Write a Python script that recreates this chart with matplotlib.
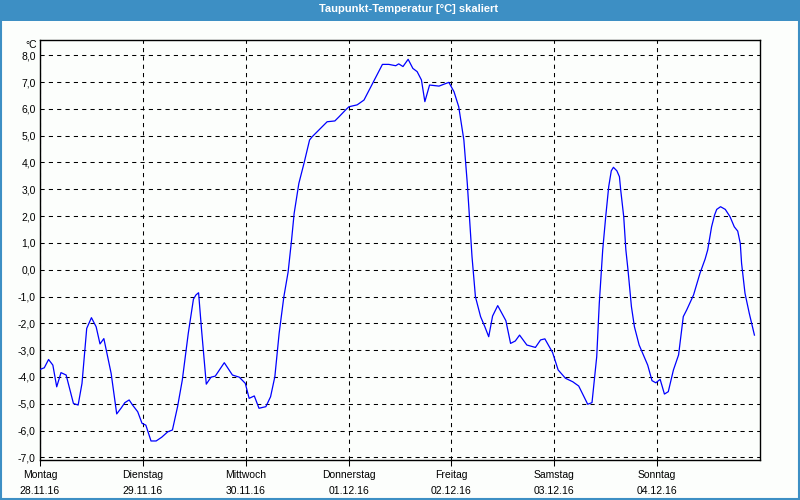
import matplotlib
matplotlib.use("Agg")
import matplotlib.pyplot as plt
from matplotlib.patches import Rectangle

# hours since Monday 28.11.16 00:00
hours = [0.0, 1.0, 2.0, 3.0, 3.9, 4.9, 6.1, 7.8, 8.9, 9.8, 10.9, 12.0, 13.1, 14.0, 14.9,
         16.6, 17.9, 18.9, 19.8, 20.8, 21.6, 22.8, 23.8, 24.7, 25.9, 27.1, 28.4, 29.8,
         30.9, 32.1, 33.2, 34.6, 35.8, 36.4, 37.0, 37.7, 38.8, 39.9, 40.9, 43.0, 44.9,
         46.5, 47.9, 48.8, 50.0, 51.1, 52.7, 53.8, 54.8, 55.8, 56.9, 57.9, 58.7, 59.3,
         60.4, 61.6, 62.9, 63.5, 65.5, 67.0, 68.8, 69.8, 71.3, 72.1, 74.0, 75.6, 77.8,
         79.9, 81.4, 83.0, 83.7, 84.7, 85.9, 87.0, 88.0, 89.0, 89.8, 90.9, 93.1, 95.4,
         96.6, 97.7, 98.9, 99.7, 100.4, 100.8, 101.6, 102.8, 103.8, 104.7, 105.6, 106.8,
         108.7, 109.8, 110.9, 111.9, 113.6, 115.6, 116.8, 117.8, 119.6, 120.9, 122.6,
         124.3, 125.7, 127.8, 128.8, 129.9, 130.5, 131.3, 132.0, 132.7, 133.3, 133.8,
         134.6, 135.2, 135.5, 136.2, 136.7, 137.2, 138.0, 138.7, 139.8, 140.8, 141.8,
         142.8, 143.7, 144.7, 145.7, 146.6, 147.8, 149.0, 150.1, 150.9, 152.5, 154.0,
         155.2, 155.8, 156.7, 157.4, 157.9, 158.8, 159.9, 161.0, 162.0, 162.8, 163.4,
         163.7, 164.5, 165.5, 166.7]
dewpoint = [-3.72, -3.66, -3.35, -3.56, -4.37, -3.84, -3.93, -4.99, -5.05, -4.24, -2.19,
            -1.79, -2.13, -2.77, -2.57, -3.87, -5.38, -5.17, -4.96, -4.86, -5.05, -5.30,
            -5.73, -5.80, -6.39, -6.39, -6.25, -6.05, -5.98, -5.11, -4.12, -2.37, -1.10,
            -0.94, -0.86, -2.25, -4.27, -4.01, -3.97, -3.47, -3.93, -4.01, -4.24, -4.80,
            -4.71, -5.17, -5.11, -4.74, -3.99, -2.37, -1.01, -0.08, 1.11, 2.10, 3.22,
            3.97, 4.84, 4.96, 5.28, 5.52, 5.55, 5.71, 5.96, 6.08, 6.15, 6.33, 7.01, 7.66,
            7.66, 7.61, 7.68, 7.58, 7.85, 7.51, 7.39, 7.08, 6.27, 6.89, 6.85, 6.99, 6.64,
            6.08, 4.84, 3.22, 1.48, 0.49, -1.01, -1.75, -2.13, -2.50, -1.73, -1.34, -1.90,
            -2.75, -2.66, -2.44, -2.81, -2.90, -2.62, -2.58, -3.09, -3.74, -4.05, -4.18,
            -4.34, -5.02, -4.96, -3.25, -1.25, 0.74, 1.98, 3.10, 3.69, 3.82, 3.69, 3.47,
            2.97, 1.98, 0.74, -0.01, -1.38, -2.13, -2.81, -3.18, -3.56, -4.14, -4.22,
            -4.09, -4.64, -4.55, -3.74, -3.18, -1.75, -1.50, -0.94, -0.13, 0.40, 0.74,
            1.60, 2.04, 2.25, 2.35, 2.25, 1.98, 1.60, 1.44, 0.98, 0.24, -0.88, -1.63,
            -2.44]

day_names = ["Montag", "Dienstag", "Mittwoch", "Donnerstag", "Freitag", "Samstag", "Sonntag"]
day_dates = ["28.11.16", "29.11.16", "30.11.16", "01.12.16", "02.12.16", "03.12.16", "04.12.16"]
day_hours = [0, 24, 48, 72, 96, 120, 144]
y_ticks = [8, 7, 6, 5, 4, 3, 2, 1, 0, -1, -2, -3, -4, -5, -6, -7]
title = "Taupunkt-Temperatur [°C] skaliert"
unit = "°C"

plt.rcParams['font.family'] = ['Liberation Sans', 'DejaVu Sans']
W, H = 800, 500
bg = "#fcfefc"
fig = plt.figure(figsize=(8, 5), dpi=100, facecolor=bg)

# title bar and frame
bar_col = "#3d8fc4"
fig.patches.append(Rectangle((0, 1 - 21 / H), 1, 21 / H, transform=fig.transFigure,
                             facecolor=bar_col, edgecolor="none", zorder=0))
fig.patches.append(Rectangle((0.5 / W, 1.5 / H), 1 - 1.5 / W, 1 - 3 / H, transform=fig.transFigure,
                             facecolor="none", edgecolor=bar_col, linewidth=1.5, zorder=0))
fig.text(409 / W, 1 - 9.5 / H, title, color="white", fontsize=8, fontweight="bold",
         ha="center", va="center")

ax = fig.add_axes([40 / W, 40 / H, 720 / W, 420 / H])
ax.set_facecolor(bg)
ax.plot(hours, dewpoint, color="#0000ff", linewidth=0.9, zorder=3)

ax.set_xlim(0, 168)
ax.set_ylim(-7.10, 8.57)

ax.set_yticks(y_ticks)
ax.set_yticklabels([f"{v:.1f}".replace(".", ",") for v in y_ticks])
ax.set_xticks(day_hours)
ax.set_xticklabels([f"{n}\n{d}" for n, d in zip(day_names, day_dates)], linespacing=1.75)

ax.grid(True, color="black", linestyle=(0, (4, 4)), linewidth=0.75)
ax.tick_params(axis="x", length=4, width=0.75, pad=3, labelsize=7.5, direction="out")
ax.tick_params(axis="y", length=0, pad=3, labelsize=7.5)
for sp in ax.spines.values():
    sp.set_linewidth(1.0)
    sp.set_color("black")

fig.text(37 / W, 1 - 45 / H, unit, fontsize=7.5, ha="right", va="center")

fig.savefig("out.png", dpi=100, facecolor=fig.get_facecolor())
